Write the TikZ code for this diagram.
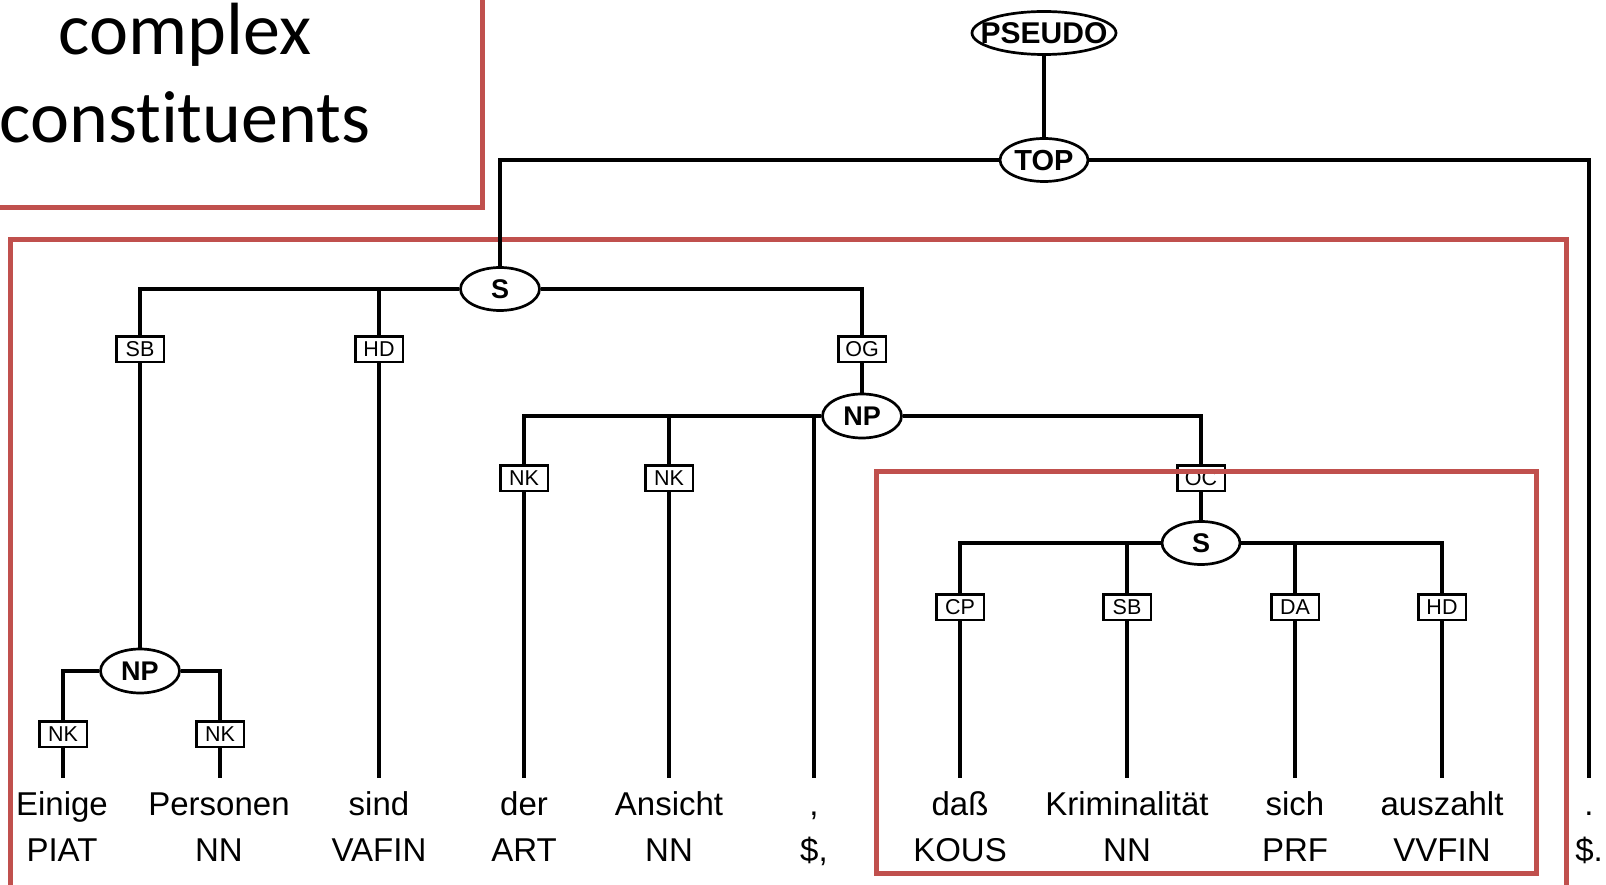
\documentclass[tikz,border=0pt]{standalone}
\usepackage{fontspec}
\setmainfont{Liberation Sans}
\newfontfamily\calibfont[Ligatures=NoCommon,RawFeature={-liga;-dlig;-clig}]{Carlito}
\usetikzlibrary{shapes.geometric}
\definecolor{boxred}{HTML}{C0504D}
\newcommand\ctr[1]{\makebox[0pt]{\raisebox{-0.36em}[0pt][0pt]{#1}}}
\begin{document}
\begin{tikzpicture}[x=1pt,y=-1pt,
  cat/.style={draw, ellipse, line width=2.7pt, fill=white, inner sep=0pt,
    minimum width=79pt, minimum height=43pt, font=\bfseries\fontsize{27}{27}\selectfont},
  fn/.style={draw, rectangle, line width=2.5pt, fill=white, inner sep=0pt,
    minimum width=47.5pt, minimum height=25.5pt, font=\fontsize{21.5}{21.5}\selectfont},
  word/.style={anchor=base, inner xsep=0pt, inner ysep=13pt, text height=24pt,
    text depth=0pt, font=\fontsize{33}{33}\selectfont},
  tag/.style={anchor=base, inner sep=0pt, font=\fontsize{33}{33}\selectfont},
  title/.style={anchor=base, inner sep=0pt, font=\calibfont\fontsize{74}{74}\selectfont},
  edge/.style={line width=3.2pt},
  redbox/.style={draw=boxred, line width=5pt}]
\useasboundingbox (0,0) rectangle (1606,885);
\clip (0,0) rectangle (1606,885);
\fill[white] (0,0) rectangle (1606,885);

% red frames (behind the tree)
\draw[redbox] (-20,-20) rectangle (482,207.5);
\draw[redbox] (10.5,240) rectangle (1566.5,960);

% title
\node[title] (t1) at (185,55) {complex};
\node[title] (t2) at (185,143) {constituents};

% phrase nodes
\node[cat, minimum width=144pt, font=\bfseries\fontsize{30}{30}\selectfont] (pseudo) at (1044,33) {\ctr{PSEUDO}};
\node[cat, minimum width=88pt, font=\bfseries\fontsize{29}{29}\selectfont] (top) at (1044,160) {\ctr{TOP}};
\node[cat] (s1) at (500,289) {\ctr{S}};
\node[cat, minimum height=44pt] (np1) at (140,671) {\ctr{NP}};
\node[cat, minimum height=44pt] (np2) at (862,416) {\ctr{NP}};
\node[cat, minimum width=78pt] (s2) at (1201,543) {\ctr{S}};

% function labels
\node[fn] (sb1) at (140,349) {\ctr{SB}};
\node[fn] (hd1) at (379,349) {\ctr{HD}};
\node[fn] (og)  at (862,349) {\ctr{OG}};
\node[fn] (nk1) at (63,734) {\ctr{NK}};
\node[fn] (nk2) at (220,734) {\ctr{NK}};
\node[fn] (nk3) at (524,478) {\ctr{NK}};
\node[fn] (nk4) at (669,478) {\ctr{NK}};
\node[fn] (oc)  at (1201,478) {\ctr{OC}};
\node[fn] (cp)  at (960,607) {\ctr{CP}};
\node[fn] (sb2) at (1127,607) {\ctr{SB}};
\node[fn] (da)  at (1295,607) {\ctr{DA}};
\node[fn] (hd2) at (1442,607) {\ctr{HD}};

% words
\node[word] (w1)  at (62,815)   {Einige};
\node[word] (w2)  at (219,815)  {Personen};
\node[word] (w3)  at (379,815)  {sind};
\node[word] (w4)  at (524,815)  {der};
\node[word] (w5)  at (669,815)  {Ansicht};
\node[word] (w6)  at (814,815)  {,};
\node[word] (w7)  at (960,815)  {daß};
\node[word] (w8)  at (1127,815) {Kriminalität};
\node[word] (w9)  at (1295,815) {sich};
\node[word] (w10) at (1442,815) {auszahlt};
\node[word] (w11) at (1589,815) {.};

% POS tags
\node[tag] (p1)  at (62,861)   {PIAT};
\node[tag] (p2)  at (219,861)  {NN};
\node[tag] (p3)  at (379,861)  {VAFIN};
\node[tag] (p4)  at (524,861)  {ART};
\node[tag] (p5)  at (669,861)  {NN};
\node[tag] (p6)  at (814,861)  {\$,};
\node[tag] (p7)  at (960,861)  {KOUS};
\node[tag] (p8)  at (1127,861) {NN};
\node[tag] (p9)  at (1295,861) {PRF};
\node[tag] (p10) at (1442,861) {VVFIN};
\node[tag] (p11) at (1589,861) {\$.};

% connectors
\draw[edge] (pseudo) -- (top);
\draw[edge] (top) -| (s1);
\draw[edge] (top) -| (w11);
\draw[edge] (s1) -| (sb1);
\draw[edge] (s1) -| (hd1);
\draw[edge] (s1) -| (og);
\draw[edge] (sb1) -- (np1);
\draw[edge] (np1) -| (nk1);
\draw[edge] (np1) -| (nk2);
\draw[edge] (nk1) -- (nk1 |- w1.north);
\draw[edge] (nk2) -- (nk2 |- w2.north);
\draw[edge] (hd1) -- (w3);
\draw[edge] (og) -- (np2);
\draw[edge] (np2) -| (nk3);
\draw[edge] (np2) -| (nk4);
\draw[edge] (np2) -| (w6);
\draw[edge] (np2) -| (oc);
\draw[edge] (nk3) -- (w4);
\draw[edge] (nk4) -- (w5);
\draw[edge] (oc) -- (s2);
\draw[edge] (s2) -| (cp);
\draw[edge] (s2) -| (sb2);
\draw[edge] (s2) -| (da);
\draw[edge] (s2) -| (hd2);
\draw[edge] (cp) -- (w7);
\draw[edge] (sb2) -- (w8);
\draw[edge] (da) -- (w9);
\draw[edge] (hd2) -- (w10);

% inner red frame (over the OC label)
\draw[redbox] (876,471) rectangle (1536,873);
\end{tikzpicture}
\end{document}
